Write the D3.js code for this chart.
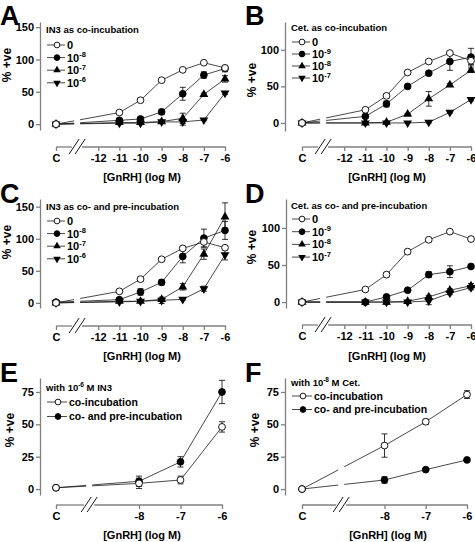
<!DOCTYPE html>
<html><head><meta charset="utf-8">
<script src="https://cdn.jsdelivr.net/npm/d3@7"></script>
<style>body{margin:0;background:#fff}svg{display:block;font-family:Arial,"Liberation Sans",sans-serif}</style>
</head><body><svg id="c" width="475" height="542"></svg>
<script>
// ---------- DATA ----------
// Long x axis (panels A-D): categories ("C" = control, left of the axis break)
const longCats = ["C","-11","-10","-9","-8","-7","-6"];
const longTickLabels = ["C","-12","-11","-10","-9","-8","-7","-6"];
const shortCats = ["C","-8","-7","-6"];
const shortTickLabels = ["C","-8","-7","-6"];

// Panel A: IN3 as co-incubation
const A_0    = [0, 18, 37, 68, 84, 95, 87];
const A_0e   = [1, 1, 2, 2, 2, 2, 3];
const A_1e8  = [0, 6, 8, 19, 47, 76, 86];
const A_1e8e = [0, 3, 3, 4, 10, 5, 5];
const A_1e7  = [0, 2.5, 2.5, 4, 9, 46, 70];
const A_1e7e = [0, 1, 1, 1, 8, 2, 5];
const A_1e6  = [0, 1.5, 1.5, 3.5, 3.5, 6.5, 48];
const A_1e6e = [0, 1, 1, 1, 5, 1, 2];

// Panel B: Cet. as co-incubation
const B_0    = [0, 18, 37, 69, 84, 95.5, 85];
const B_0e   = [1, 1, 3, 2, 2, 2, 5];
const B_1e9  = [0, 9, 26, 50, 68, 84, 90];
const B_1e9e = [0, 2, 4, 2, 2, 12, 12];
const B_1e8  = [0, 0, 1, 12, 33, 52, 72];
const B_1e8e = [0, 0, 1, 1, 10, 2, 3];
const B_1e7  = [0, 0, 0, 0, 1, 14.5, 32];
const B_1e7e = [0, 0, 0, 0, 1, 1, 2];

// Panel C: IN3 as co- and pre-incubation
const C_0    = [0, 18, 37, 68, 85, 95, 86];
const C_0e   = [1, 1, 3, 2, 2, 8, 3];
const C_1e8  = [1, 5, 17, 32, 72.5, 101, 113];
const C_1e8e = [1, 2, 5, 4, 10, 14, 14];
const C_1e7  = [0, 2.5, 2.5, 5.5, 25, 76, 134];
const C_1e7e = [0, 1, 1, 1, 5, 8, 22];
const C_1e6  = [0, 1.5, 2.5, 4, 5.5, 22, 75];
const C_1e6e = [0, 1, 1, 5, 1, 4, 8];

// Panel D: Cet. as co- and pre-incubation
const D_0    = [0, 17, 37, 68, 84, 95, 85];
const D_0e   = [1, 1, 3, 3, 2, 1, 3];
const D_1e9  = [0, 0, 7, 16, 37, 41, 48];
const D_1e9e = [0, 0, 1, 1, 4, 8, 2];
const D_1e8  = [0, 0, 0, 1, 7, 16, 22];
const D_1e8e = [0, 0, 3, 1, 2, 2, 3];
const D_1e7  = [0, 0, 0, 0, 1.5, 12, 19.5];
const D_1e7e = [0, 0, 0, 0, 5, 2, 3];

// Panel E: with 1e-6 M IN3
const E_co     = [1, 4.4, 7, 48];
const E_coe    = [0, 4, 3, 4];
const E_copre  = [1, 6, 21, 75];
const E_copree = [0, 4, 4, 9];

// Panel F: with 1e-8 M Cet.
const F_co     = [0, 33.6, 52, 73];
const F_coe    = [0, 9, 2, 3];
const F_copre  = [0, 7, 15, 22.5];
const F_copree = [0, 2.5, 1, 1];

// category -> numeric log value (C sits at the panel's control position)
function catVal(c, controlAt){ return c === "C" ? controlAt : +c; }

// ---------- LAYOUT ----------
const svg = d3.select("#c");
const AXIS = "#808080";
const INK = "#000";

const panels = [
 {letter:"A", lx:0, ly:25, yAxisX:40, xRange:[56,225], ctrl:-14, breakAt:-13, axisY:147,
  yDom:[-9,158], yRange:[130,22], yTicks:[0,50,100,150], cats:longCats, ticks:longTickLabels,
  ylab:[8,65], xlab:[142,181],
  legend:{x:47, ty:33, r0:45, dy:12.6, lineW:18, title:[["IN3 as co-incubation"]], rows:[["0"],["10","-8"],["10","-7"],["10","-6"]]},
  series:[[A_0,A_0e,"open"],[A_1e8,A_1e8e,"circle"],[A_1e7,A_1e7e,"tri"],[A_1e6,A_1e6e,"tridown"]]},
 {letter:"B", lx:245, ly:25, yAxisX:285, xRange:[302,471], ctrl:-14, breakAt:-13, axisY:147,
  yDom:[-11,138], yRange:[131,22], yTicks:[0,50,100], cats:longCats, ticks:longTickLabels,
  ylab:[253,80], xlab:[387,181],
  legend:{x:292, ty:31, r0:42, dy:12, lineW:18, title:[["Cet. as co-incubation"]], rows:[["0"],["10","-9"],["10","-8"],["10","-7"]]},
  series:[[B_0,B_0e,"open"],[B_1e9,B_1e9e,"circle"],[B_1e8,B_1e8e,"tri"],[B_1e7,B_1e7e,"tridown"]]},
 {letter:"C", lx:0, ly:203, yAxisX:40, xRange:[56,225], ctrl:-14, breakAt:-13, axisY:326,
  yDom:[-8,162], yRange:[308,199], yTicks:[0,50,100,150], cats:longCats, ticks:longTickLabels,
  ylab:[8,242], xlab:[142,360],
  legend:{x:47, ty:210, r0:221, dy:12.6, lineW:18, title:[["IN3 as co- and pre-incubation"]], rows:[["0"],["10","-8"],["10","-7"],["10","-6"]]},
  series:[[C_0,C_0e,"open"],[C_1e8,C_1e8e,"circle"],[C_1e7,C_1e7e,"tri"],[C_1e6,C_1e6e,"tridown"]]},
 {letter:"D", lx:245, ly:203, yAxisX:286, xRange:[302,471], ctrl:-14, breakAt:-13, axisY:325,
  yDom:[-8,139], yRange:[308,199], yTicks:[0,50,100], cats:longCats, ticks:longTickLabels,
  ylab:[253,247], xlab:[387,360],
  legend:{x:292, ty:209, r0:219, dy:12.7, lineW:18, title:[["Cet. as co- and pre-incubation"]], rows:[["0"],["10","-9"],["10","-8"],["10","-7"]]},
  series:[[D_0,D_0e,"open"],[D_1e9,D_1e9e,"circle"],[D_1e8,D_1e8e,"tri"],[D_1e7,D_1e7e,"tridown"]]},
 {letter:"E", lx:0, ly:382, yAxisX:40, xRange:[56,222], ctrl:-10, breakAt:-9.2, axisY:505,
  yDom:[-4.6,85.8], yRange:[495,378], yTicks:[0,25,50,75], cats:shortCats, ticks:shortTickLabels,
  ylab:[11,430], xlab:[142,539],
  legend:{x:47, ty:391, r0:402, dy:14.5, lineW:20, title:[["with 10"],["-6","sup"],[" M IN3"]], rows:[["co-incubation"],["co- and pre-incubation"]]},
  series:[[E_co,E_coe,"open"],[E_copre,E_copree,"circle"]]},
 {letter:"F", lx:245, ly:382, yAxisX:285, xRange:[302,467], ctrl:-10, breakAt:-9.05, axisY:505,
  yDom:[-4.6,85.8], yRange:[495,378], yTicks:[0,25,50,75], cats:shortCats, ticks:shortTickLabels,
  ylab:[256,430], xlab:[388,539],
  legend:{x:292, ty:386, r0:396, dy:13.5, lineW:20, title:[["with 10"],["-8","sup"],[" M Cet."]], rows:[["co-incubation"],["co- and pre-incubation"]]},
  series:[[F_co,F_coe,"open"],[F_copre,F_copree,"circle"]]}
];

function marker(sel, shape, cx, cy, s){
  s = s || 1;
  if (shape === "open" || shape === "circle") {
    sel.append("circle").attr("cx",cx).attr("cy",cy).attr("r",3.4*s)
      .attr("fill", shape==="open" ? "#fff" : INK).attr("stroke",INK).attr("stroke-width",0.9);
  } else {
    const p = d3.symbol().type(d3.symbolTriangle).size(34*s*s)();
    sel.append("path").attr("d",p)
      .attr("transform",`translate(${cx},${cy})` + (shape==="tridown" ? " rotate(180)" : ""))
      .attr("fill",INK);
  }
}

panels.forEach((p, pi) => {
  const x = d3.scaleLinear().domain([p.ctrl, -6]).range(p.xRange);
  const y = d3.scaleLinear().domain(p.yDom).range(p.yRange);
  const g = svg.append("g");

  g.append("text").attr("x",p.lx).attr("y",p.ly).text(p.letter)
    .attr("font-size",27).attr("font-weight","bold");

  // y axis
  const ya = g.append("g").attr("transform",`translate(${p.yAxisX},0)`)
    .call(d3.axisLeft(y).tickValues(p.yTicks).tickSize(4).tickSizeOuter(0).tickPadding(2));
  ya.select(".domain").attr("stroke",AXIS).attr("stroke-width",1.3);
  ya.selectAll(".tick line").attr("stroke",AXIS).attr("stroke-width",1.3);
  ya.selectAll(".tick text").attr("font-size",11).attr("font-weight","bold").attr("fill",INK)
    .attr("font-family","Arial, Liberation Sans, sans-serif");

  // x axis (broken)
  const tv = p.ticks.map(t => catVal(t, p.ctrl));
  const xa = g.append("g").attr("transform",`translate(0,${p.axisY})`)
    .call(d3.axisBottom(x).tickValues(tv).tickFormat((d,i)=>p.ticks[i]).tickSize(4).tickPadding(3));
  xa.select(".domain").remove();
  xa.selectAll(".tick line").attr("stroke",AXIS).attr("stroke-width",1.3);
  xa.selectAll(".tick text").attr("font-size",11).attr("font-weight","bold").attr("fill",INK)
    .attr("font-family","Arial, Liberation Sans, sans-serif");
  const bx = x(p.breakAt);
  xa.append("line").attr("x1",x(p.ctrl)).attr("x2",bx-5).attr("stroke",AXIS).attr("stroke-width",1.3);
  xa.append("line").attr("x1",bx+5).attr("x2",x(-6)+1).attr("stroke",AXIS).attr("stroke-width",1.3);
  [-3,3].forEach(o => {
    xa.append("line").attr("x1",bx+o-5).attr("y1",7).attr("x2",bx+o+5).attr("y2",-8)
      .attr("stroke",INK).attr("stroke-width",0.9);
  });

  // axis titles
  g.append("text").attr("transform",`translate(${p.ylab[0]},${p.ylab[1]}) rotate(-90)`)
    .attr("text-anchor","middle").attr("dominant-baseline","middle")
    .attr("font-size",12).attr("font-weight","bold").text("% +ve");
  g.append("text").attr("x",p.xlab[0]).attr("y",p.xlab[1]).attr("text-anchor","middle")
    .attr("font-size",11).attr("font-weight","bold").text("[GnRH] (log M)");

  // clip for line gap at the break
  const cid = "gap"+pi;
  const cp = svg.append("defs").append("clipPath").attr("id",cid);
  cp.append("rect").attr("x",0).attr("y",0).attr("width",bx-3).attr("height",542);
  cp.append("rect").attr("x",bx+3).attr("y",0).attr("width",475-bx).attr("height",542);

  const line = d3.line().x(d=>x(d[0])).y(d=>y(d[1]));
  const layers = p.series.map(s => ({
    pts: p.cats.map((c,i)=>[catVal(c,p.ctrl), s[0][i], s[1][i]]),
    shape: s[2]
  }));
  layers.forEach(L => {
    g.append("path").attr("d",line(L.pts)).attr("fill","none")
      .attr("stroke","#1a1a1a").attr("stroke-width",0.8).attr("clip-path",`url(#${cid})`);
  });
  layers.slice().reverse().forEach(L => {
    L.pts.forEach(d => {
      if (d[2] > 0) {
        const cx = x(d[0]), y1 = y(d[1]-d[2]), y2 = y(d[1]+d[2]);
        g.append("line").attr("x1",cx).attr("x2",cx).attr("y1",y1).attr("y2",y2).attr("stroke",INK).attr("stroke-width",0.8);
        [y1,y2].forEach(yy => g.append("line").attr("x1",cx-3).attr("x2",cx+3).attr("y1",yy).attr("y2",yy).attr("stroke",INK).attr("stroke-width",0.8));
      }
    });
    L.pts.forEach(d => marker(g, L.shape, x(d[0]), y(d[1])));
  });

  // legend
  const lg = p.legend;
  const tt = g.append("text").attr("x",lg.x-1).attr("y",lg.ty).attr("font-size",9.5).attr("font-weight","bold");
  lg.title.forEach((part, k) => {
    const ts = tt.append("tspan").text(part[0]);
    if (part[1]==="sup") ts.attr("dy",-4).attr("font-size",6.5);
    else if (k > 0) ts.attr("dy",4);
  });
  lg.rows.forEach((r,i) => {
    const ry = lg.r0 + lg.dy*i;
    g.append("line").attr("x1",lg.x).attr("x2",lg.x+lg.lineW).attr("y1",ry).attr("y2",ry)
      .attr("stroke","#1a1a1a").attr("stroke-width",0.8);
    marker(g, p.series[i][2], lg.x+lg.lineW/2+1, ry, 0.85);
    const big = r.length>1 || r[0]==="0";
    const t = g.append("text").attr("x",lg.x+lg.lineW+2).attr("y",ry+ (big?4:3.7))
      .attr("font-size", big ? 11 : 10.5).attr("font-weight","bold");
    t.append("tspan").text(r[0]);
    if (r.length>1) t.append("tspan").attr("dy",-4.5).attr("font-size",7.5).text(r[1]);
  });
});
</script></body></html>
